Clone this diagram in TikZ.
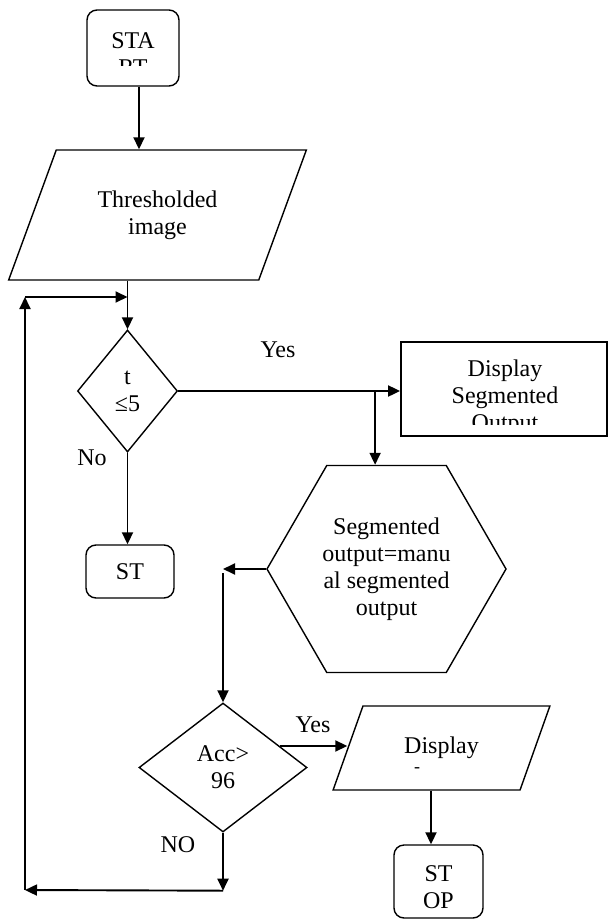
\documentclass[tikz,border=0pt]{standalone}
\usepackage{fontspec}
\setmainfont{Liberation Serif}
\usetikzlibrary{shapes.geometric,arrows.meta,calc}
\begin{document}
\begin{tikzpicture}[x=0.5pt,y=-0.5pt,
  every node/.style={font=\fontsize{12}{13.5}\selectfont, inner sep=0pt},
  shp/.style={draw, line width=0.7pt},
  term/.style={shp, rounded corners=5pt},
  arr/.style={line width=0.95pt, -{Triangle[length=6pt,width=5.5pt]}},
  txt/.style={align=center}]
\useasboundingbox (0,0) rectangle (609,920);

% START
\node[term, minimum width=46pt, minimum height=38pt] (start) at (133,48) {};
\begin{scope}
  \clip (87,10) rectangle (179,66);
  \node[txt] (starttext) at (133,54) {STA\\RT};
\end{scope}

% Thresholded image
\node[shp, trapezium, trapezium left angle=60, trapezium right angle=120,
  trapezium stretches=true, minimum width=149.5pt, minimum height=65pt, txt]
  (thr) at (157.5,215) {Thresholded\\image};

% decision t<=5
\node[shp, diamond, minimum width=50pt, minimum height=61pt, txt] (d1) at (127.5,391) {t\\≤5};

% Display segmented output
\node[shp, line width=0.9pt, minimum width=103pt, minimum height=47pt] (disp1) at (504,389) {};
\begin{scope}
  \clip (401,342) rectangle (607,424);
  \node[txt] (disp1text) at (505,398) {Display\\Segmented\\Output};
\end{scope}

% ST
\node[term, minimum width=44pt, minimum height=26.5pt] (st) at (130,571.5) {ST};

% hexagon
\node[shp, regular polygon, regular polygon sides=6, minimum size=119.5pt, txt]
  (hex) at (386.5,569) {Segmented\\output=manu\\al segmented\\output};

% decision Acc>96
\node[shp, diamond, minimum width=84pt, minimum height=64.5pt, txt] (d2) at (223,767.5) {Acc>\\96};

% Display
\node[shp, trapezium, trapezium left angle=57, trapezium right angle=123,
  trapezium stretches=true, minimum width=108.5pt, minimum height=42pt]
  (disp2) at (441.5,748) {Display};
\node[font=\fontsize{9}{10}\selectfont] (dash) at (417,770) {-};

% STOP
\node[term, minimum width=44.5pt, minimum height=36.5pt] (stop) at (438.5,881.5) {};
\node[txt] (stoptext) at (438.5,887) {ST\\OP};

% labels
\node (yes1) at (278,350) {Yes};
\node (no1) at (92,458) {No};
\node (yes2) at (313,725) {Yes};
\node (no2) at (178,845) {NO};

% connectors
\draw[arr] ([xshift=3pt]start.south) -- ([xshift=3pt]start.south |- thr.north);
\draw[arr] (d1.north |- thr.south) -- (d1.north);
\draw[arr] (d1.east) -- (d1.east -| disp1.west);
\coordinate (j1) at ([xshift=-12.5pt]d1.east -| disp1.west);
\draw[arr] (j1) -- (j1 |- hex.north);
\draw[arr] (d1.south) -- (d1.south |- st.north);
\draw[arr] (hex.west) -- (hex.west -| d2.north);
\draw[arr] ([yshift=-2pt]hex.west -| d2.north) -- (d2.north);
\coordinate (ya) at ($(d2.north)!0.67!(d2.east)$);
\draw[arr] (ya) -- (ya -| disp2.west);
\draw[arr] ([xshift=-3.75pt]stop.north |- disp2.south) -- ([xshift=-3.75pt]stop.north);
\coordinate (c1) at ([yshift=-29pt]d2.south);
\coordinate (c2) at (25,890);
\coordinate (c3) at (25,297);
\draw[arr] (d2.south) -- (c1);
\draw[arr] (c1) -- (c2);
\draw[arr] (c2) -- (c3);
\draw[arr] (c3) -- (c3 -| d1.north);
\end{tikzpicture}
\end{document}
